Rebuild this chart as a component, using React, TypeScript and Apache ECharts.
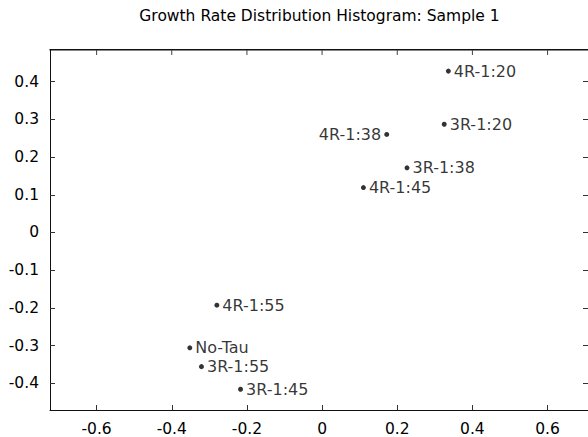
import React, { useEffect, useRef } from "react";
import * as echarts from "echarts";

const pointNames = ["4R-1:20", "3R-1:20", "4R-1:38", "3R-1:38", "4R-1:45", "4R-1:55", "No-Tau", "3R-1:55", "3R-1:45"];
const xValues = [0.336, 0.325, 0.172, 0.226, 0.110, -0.280, -0.352, -0.321, -0.217];
const yValues = [0.428, 0.287, 0.260, 0.1715, 0.119, -0.193, -0.306, -0.356, -0.416];
const labelSides = ["right", "right", "left", "right", "right", "right", "right", "right", "right"];
const xTicks = [-0.6, -0.4, -0.2, 0, 0.2, 0.4, 0.6];
const yTicks = [-0.4, -0.3, -0.2, -0.1, 0, 0.1, 0.2, 0.3, 0.4];
const titleText = "Growth Rate Distribution Histogram: Sample 1";

const FONT = "DejaVu Sans";
const fmt = (v: number) => String(Number(Number(v).toFixed(1)));

export default function App() {
  const ref = useRef<HTMLDivElement>(null);
  useEffect(() => {
    if (!ref.current) return;
    const chart = echarts.init(ref.current, null, { renderer: "svg" });
    const xMin = -0.724, xMax = 0.7076, yMin = -0.471, yMax = 0.484;
    const tickStyle = { show: true, inside: true, length: 5, lineStyle: { color: "#333", width: 1 } };
    const lineStyle = { show: true, onZero: false, lineStyle: { color: "#111", width: 1 } };
    chart.setOption({
      animation: false,
      backgroundColor: "#fff",
      title: {
        text: titleText,
        left: 319.5,
        top: 8,
        padding: 0,
        textAlign: "center",
        textStyle: { fontFamily: FONT, fontSize: 15.5, fontWeight: "normal", color: "#000" },
      },
      grid: { left: 50, top: 50, width: 539, height: 360, containLabel: false },
      xAxis: [
        {
          type: "value", position: "bottom", min: xMin, max: xMax,
          axisLine: lineStyle,
          axisTick: { ...tickStyle, customValues: xTicks },
          axisLabel: { customValues: xTicks, formatter: fmt, color: "#000", fontFamily: FONT, fontSize: 15.5, margin: 11 },
          splitLine: { show: false },
        },
      ],
      yAxis: [
        {
          type: "value", position: "left", min: yMin, max: yMax,
          axisLine: lineStyle,
          axisTick: { ...tickStyle, customValues: yTicks },
          axisLabel: { customValues: yTicks, formatter: fmt, color: "#000", fontFamily: FONT, fontSize: 15.5, margin: 11 },
          splitLine: { show: false },
        },
        {
          type: "value", position: "right", min: yMin, max: yMax,
          axisLine: lineStyle,
          axisTick: { ...tickStyle, customValues: yTicks },
          axisLabel: { show: false },
          splitLine: { show: false },
        },
      ],
      series: [
        {
          type: "scatter",
          xAxisIndex: 0,
          yAxisIndex: 0,
          symbol: "circle",
          symbolSize: 5,
          itemStyle: { color: "#000" },
          data: pointNames.map((n, i) => ({
            name: n,
            value: [xValues[i], yValues[i]],
            label: { position: labelSides[i] },
          })),
          label: {
            show: true,
            formatter: (p: any) => p.name,
            color: "#000",
            fontFamily: FONT,
            fontSize: 16,
            distance: 3,
          },
          emphasis: { disabled: true },
        },
      ],
    });

    // Top frame edge and mirrored ticks, placed through the chart's own scales
    const tl = chart.convertToPixel({ xAxisIndex: 0, yAxisIndex: 0 }, [xMin, yMax]) as number[];
    const tr = chart.convertToPixel({ xAxisIndex: 0, yAxisIndex: 0 }, [xMax, yMax]) as number[];
    const topY = tl && isFinite(tl[1]) ? tl[1] : 50;
    const leftX = tl && isFinite(tl[0]) ? tl[0] : 50;
    const rightX = tr && isFinite(tr[0]) ? tr[0] : 589;
    const elems: any[] = [
      {
        type: "rect",
        z: 100,
        zlevel: 0,
        silent: true,
        shape: { x: leftX - 0.5, y: topY - 1, width: rightX - leftX + 1, height: 1.5 },
        style: { fill: "#111" },
      },
    ];
    xTicks.forEach((v) => {
      const p = chart.convertToPixel({ xAxisIndex: 0 }, v) as number;
      const x = isFinite(p) ? p : 0;
      elems.push({
        type: "rect",
        z: 100,
        silent: true,
        shape: { x: x - 0.5, y: topY, width: 1, height: 5 },
        style: { fill: "#444" },
      });
    });
    chart.setOption({ graphic: elems });
    return () => chart.dispose();
  }, []);
  return (
    <div
      ref={ref}
      style={{ position: "fixed", left: 0, top: 0, width: 588, height: 437, background: "#fff" }}
    />
  );
}
